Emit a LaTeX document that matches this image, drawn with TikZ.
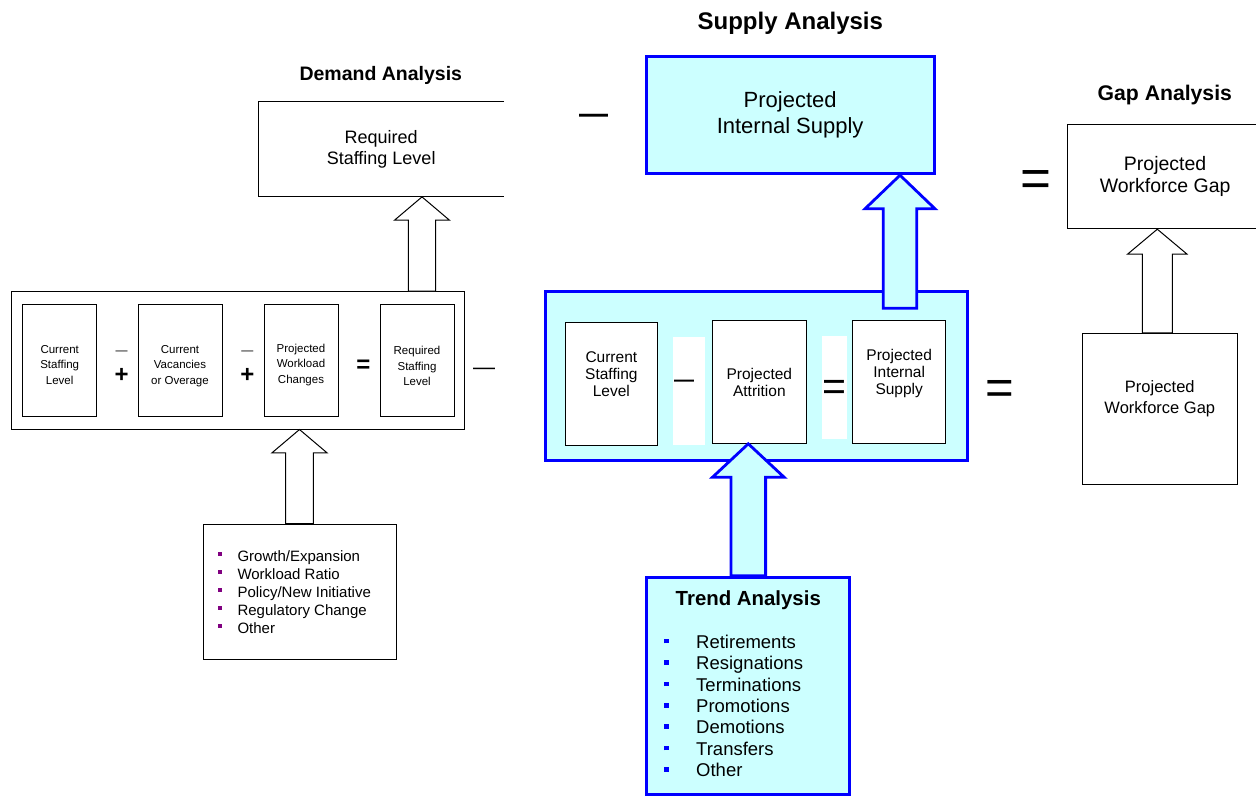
\documentclass[tikz,border=0pt]{standalone}
\usepackage{fontspec}
\setmainfont{Liberation Sans}
\usetikzlibrary{calc}

\definecolor{cyanfill}{HTML}{CCFFFF}
\definecolor{bluedge}{HTML}{0000FF}
\definecolor{bulletpurple}{HTML}{800080}

\newcommand\fs[2]{\fontsize{#1}{#2}\selectfont}

% rectangle node given by its corners: [options]{name}{x1}{y1}{x2}{y2}{text}
\newcommand\rbox[7][]{%
  \node[#1, inner sep=0pt, minimum width={(#5)-(#3)}, minimum height={(#6)-(#4)}]
    (#2) at ({((#3)+(#5))/2},{((#4)+(#6))/2}) {#7};}

% upward block arrow: [style]{base point}{tip point}{half shaft}{half head}{head length}
\newcommand\blockarrow[6][]{%
  \draw[#1] let \p1=#2, \p2=#3 in
    (\x1-#4pt,\y1) -- (\x1-#4pt,\y2-#6pt) -- (\x1-#5pt,\y2-#6pt) -- (\x1,\y2)
    -- (\x1+#5pt,\y2-#6pt) -- (\x1+#4pt,\y2-#6pt) -- (\x1+#4pt,\y1) -- cycle;}

\tikzset{
  bk/.style={draw=black, line width=1pt, fill=white},
  cy/.style={draw=bluedge, line width=3pt, fill=cyanfill},
  warrow/.style={draw=black, line width=1pt, fill=white},
  carrow/.style={draw=bluedge, line width=2.8pt, fill=cyanfill},
  txt/.style={align=center, inner sep=0pt},
  small/.style={txt, font=\fs{11.5}{15.5}},
  mid/.style={txt, font=\fs{15.5}{17}},
  op/.style={inner sep=0pt, anchor=base},
  ttl/.style={inner sep=0pt, anchor=base},
  item/.style={inner sep=0pt, anchor=base west},
}

\begin{document}
\begin{tikzpicture}[x=1pt,y=-1pt]
\useasboundingbox (0,0) rectangle (1256,796);
\clip (0,0) rectangle (1256,796);

% ---------- headings ----------
\node[ttl, font=\bfseries\fs{24}{28}] (tsup) at (790.3,29) {Supply Analysis};
\node[ttl, font=\bfseries\fs{19.5}{23}] (tdem) at (380.8,80) {Demand Analysis};
\node[ttl, font=\bfseries\fs{21.2}{25}] (tgap) at (1164.8,100.7) {Gap Analysis};

% ---------- demand side ----------
\rbox[txt, font=\fs{18}{21}]{req}{258.3}{101.7}{504}{196.7}{Required\\Staffing Level}
\draw[line width=1pt] (req.north east) -- (req.north west) -- (req.south west) -- (req.south east);

\rbox[bk]{lbox}{11.7}{291.7}{464}{429}{}
\rbox[bk]{lb1}{22.7}{304}{96.7}{416}{}
\rbox[bk]{lb2}{138}{304}{222}{416}{}
\rbox[bk]{lb3}{264}{304}{338}{416}{}
\rbox[bk]{lb4}{380}{304}{454}{416}{}
\node[small, yshift=-5pt] (lt1) at (lb1.center) {Current\\Staffing\\Level};
\node[small, yshift=-6pt] (lt2) at (lb2.center) {Current\\Vacancies\\or Overage};
\node[small, yshift=-5pt] (lt3) at (lb3.center) {Projected\\Workload\\Changes};
\node[small, yshift=-6pt] (lt4) at (lb4.center) {Required\\Staffing\\Level};

\node[op, font=\fs{12}{12}] (lm1) at (121.7,354) {—};
\node[op, font=\bfseries\fs{24}{24}] (lp1) at (121.7,382.2) {+};
\node[op, font=\fs{12}{12}] (lm2) at (247.3,354) {—};
\node[op, font=\bfseries\fs{24}{24}] (lp2) at (247.3,382.2) {+};
\node[op, font=\bfseries\fs{24}{24}] (leq) at (363.5,372) {=};
\node[op, font=\fs{22}{22}] (lm3) at (484,374) {—};

\rbox[bk]{dl}{203.3}{524}{396}{659.3}{}
\foreach \t [count=\i from 0] in {Growth/Expansion,Workload Ratio,Policy/New Initiative,Regulatory Change,Other}
  \node[item, font=\fs{15}{18}] (dl-\i) at (217.3,{561.4+18*\i})
    {\textcolor{bulletpurple}{\rule[5.5pt]{4pt}{4pt}}\hspace{16pt}\t};

\coordinate (ax1) at (422,0);
\coordinate (ax2) at (299.5,0);
\blockarrow[warrow]{(ax1 |- lbox.north)}{(ax1 |- req.south)}{13.7}{27.5}{23.3}
\blockarrow[warrow]{(ax2 |- dl.north)}{(ax2 |- lbox.south)}{13.8}{27.5}{23.3}

% ---------- supply side ----------
\node[op, font=\bfseries\fs{29}{29}] (tm) at (593.5,123.7) {—};
\rbox[cy, txt, font=\fs{22}{26.7}]{sup}{646}{56}{934.3}{173.7}{Projected\\Internal Supply}

\rbox[cy]{smain}{545}{291}{967.3}{460.7}{}
\rbox[fill=white, draw=none]{w1}{673}{337}{705}{445}{}
\rbox[fill=white, draw=none]{w2}{821.7}{336}{846.7}{439}{}
\rbox[bk]{sb1}{565}{322}{657.7}{445}{}
\rbox[bk]{sb2}{712.7}{320.7}{806}{443.3}{}
\rbox[bk]{sb3}{852.7}{320.7}{945.7}{443.3}{}
\node[mid, yshift=9.5pt] (st1) at (sb1.center) {Current\\Staffing\\Level};
\node[mid] (st2) at (sb2.center) {Projected\\Attrition};
\node[mid, yshift=9pt] (st3) at (sb3.center) {Projected\\Internal\\Supply};
\node[op, font=\bfseries\fs{20}{20}] (sm) at (684,386.2) {—};
\node[op, font=\fs{41}{41}] (seq) at (834,400) {=};

\rbox[cy]{trend}{646}{577.3}{849.3}{794}{}
\node[ttl, font=\bfseries\fs{20.4}{24}] (ttr) at (748.3,605) {Trend Analysis};
\foreach \t [count=\i from 0] in {Retirements,Resignations,Terminations,Promotions,Demotions,Transfers,Other}
  \node[item, font=\fs{18.5}{21}] (tr-\i) at (664,{648.3+21.4*\i})
    {\textcolor{bluedge}{\rule[5pt]{4.5pt}{4.5pt}}\hspace{27.5pt}\t};

\coordinate (a3b) at (900,308.3);
\coordinate (ax4) at (748.3,0);
\blockarrow[carrow]{(a3b)}{(a3b |- sup.south)}{16.8}{35}{33.6}
\blockarrow[carrow]{(ax4 |- trend.north)}{(ax4 |- sb2.south)}{17.3}{35.8}{33.4}

% ---------- gap side ----------
\node[op, font=\fs{53}{53}] (geq) at (1036,196.2) {=};
\node[op, font=\fs{49}{49}] (meq) at (1000,404) {=};
\rbox[bk, txt, font=\fs{19.5}{22.3}]{gap}{1067.3}{124.3}{1263}{228.7}{Projected\\Workforce Gap}
\rbox[bk]{gapl}{1082.3}{333.3}{1237.3}{484.3}{}
\node[txt, font=\fs{16.5}{21}, yshift=10pt] (gapltxt) at (gapl.center) {Projected\\Workforce Gap};

\coordinate (ax5) at (1157.3,0);
\blockarrow[warrow]{(ax5 |- gapl.north)}{(ax5 |- gap.south)}{15}{29.8}{25}
\end{tikzpicture}
\end{document}
